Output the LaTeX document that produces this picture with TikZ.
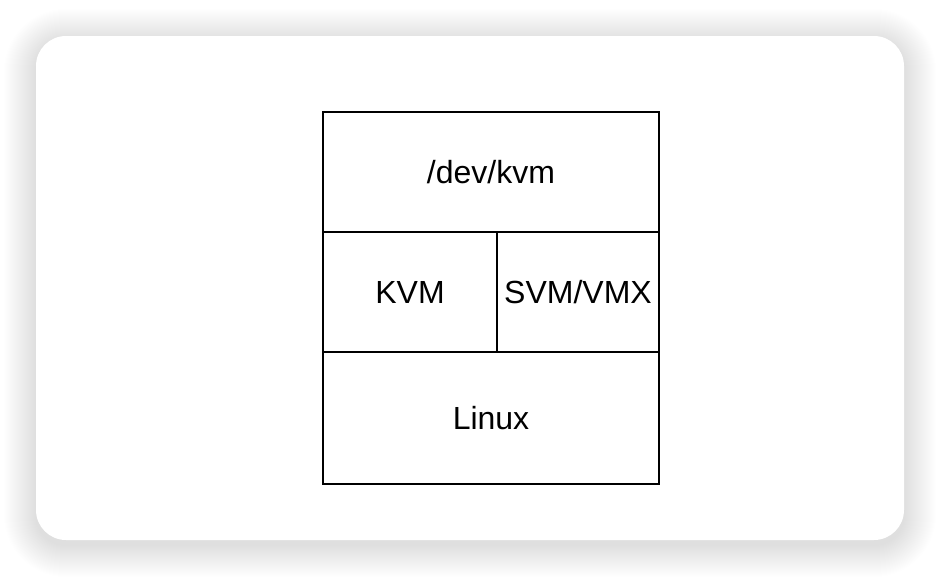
\documentclass[tikz,border=0pt]{standalone}
\usepackage{fontspec}
\setmainfont{Liberation Sans}
\begin{document}
\begin{tikzpicture}[x=0.75pt,y=-0.75pt,
  cell/.style={draw=black, line width=1.4pt, inner sep=0pt, font=\fontsize{24pt}{29pt}\selectfont},
  shadowlayer/.style={fill=black, opacity=0.0045}]
\useasboundingbox (0,0) rectangle (940,576);
\fill[white] (0,0) rectangle (940,576);
% shadow
\foreach \i in {1,...,32}{
  \pgfmathsetmacro{\r}{(30+\i)*0.75}
  \fill[shadowlayer, rounded corners=\r pt] (36-\i,41-\i) rectangle (904+\i,545+\i);
}
% card
\fill[white, rounded corners=22.5pt] (36,36) rectangle (904,540);
% cells
\node[cell, minimum width=252pt, minimum height=90pt] (devkvm) at (491,172) {/dev/kvm};
\node[cell, minimum width=130.5pt, minimum height=90pt] (kvm) at (410,292) {KVM};
\node[cell, minimum width=121.5pt, minimum height=90pt] (svm) at (578,292) {SVM/VMX};
\node[cell, minimum width=252pt, minimum height=99pt] (linux) at (491,418) {Linux};
\end{tikzpicture}
\end{document}
